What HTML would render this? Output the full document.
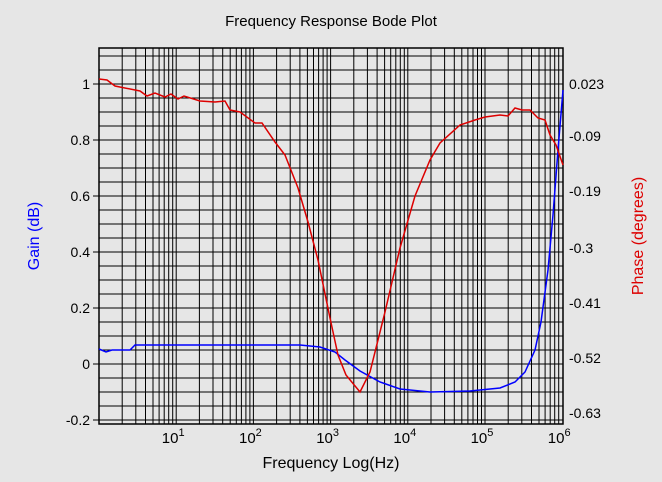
<!DOCTYPE html>
<html><head><meta charset="utf-8"><style>
body{margin:0;background:#e6e6e6;}
svg{display:block;font-family:"Liberation Sans",sans-serif;}
</style></head><body>
<svg id="s" width="662" height="482" viewBox="0 0 662 482" xmlns="http://www.w3.org/2000/svg">
<rect width="662" height="482" fill="#e6e6e6"/>
<g id="grid" stroke="#000" stroke-width="1"></g>
<rect x="99" y="48" width="464" height="376" fill="none" stroke="#000" stroke-width="1.5"/>
<text x="331" y="26" font-size="15" text-anchor="middle">Frequency Response Bode Plot</text>
<g font-size="14" text-anchor="end" id="yl"></g>
<g font-size="14" text-anchor="start">
<text x="569" y="89">0.023</text><text x="569" y="141">-0.09</text><text x="569" y="196">-0.19</text>
<text x="569" y="253">-0.3</text><text x="569" y="308">-0.41</text><text x="569" y="363">-0.52</text><text x="569" y="418">-0.63</text>
</g>
<g font-size="15" text-anchor="middle" id="xl"></g>
<text x="331" y="468" font-size="16" text-anchor="middle">Frequency Log(Hz)</text>
<text transform="translate(39,236) rotate(-90)" font-size="16" fill="#0000ff" text-anchor="middle">Gain (dB)</text>
<text transform="translate(643,236) rotate(-90)" font-size="16" fill="#dd0000" text-anchor="middle">Phase (degrees)</text>
<polyline fill="none" stroke="#0000ff" stroke-width="1.5" points="99,349 106,352 112,350 130,350 135,345 300,345 320,347 335,352 345,360 360,371 380,382 400,389 430,392 470,391 500,388 515,382 525,372 535,350 541,322 548,270 553,215 558,150 563,90"/>
<polyline fill="none" stroke="#dd0000" stroke-width="1.5" points="99,79 107,80 115,86 140,91 147,96 155,93 165,97 171,94 178,99 184,96 200,101 215,102 225,101 230,110 240,112 255,123 262,123 275,142 285,155 298,188 308,222 318,260 330,318 338,355 346,375 360,392 370,372 385,312 400,248 415,196 430,160 440,143 460,125 475,120 485,117 500,115 508,116 515,108 522,110 530,110 538,118 545,120 550,135 556,145 563,165"/>
</svg>
<script>
var ns="http://www.w3.org/2000/svg",g=document.getElementById("grid");
function ln(x1,y1,x2,y2){var l=document.createElementNS(ns,"line");l.setAttribute("x1",x1);l.setAttribute("y1",y1);l.setAttribute("x2",x2);l.setAttribute("y2",y2);g.appendChild(l);}
for(var d=0;d<6;d++)for(var k=1;k<10;k++){var x=99+77.2*(d+Math.log10(k));ln(x.toFixed(1),48,x.toFixed(1),424);}
for(var y=420;y>48;y-=14){ln(99,y,563,y);}
var yl=document.getElementById("yl");
[1,0.8,0.6,0.4,0.2,0,-0.2].forEach(function(v){var t=document.createElementNS(ns,"text");t.setAttribute("x",90);t.setAttribute("y",364-v*280+5);t.textContent=v;yl.appendChild(t);ln(93,364-v*280,99,364-v*280);});
var xl=document.getElementById("xl");
for(var d=1;d<=6;d++){var x=99+77.2*d;var t=document.createElementNS(ns,"text");t.setAttribute("x",x-3);t.setAttribute("y",443);t.innerHTML='10<tspan dy="-7" font-size="11">'+d+'</tspan>';xl.appendChild(t);}
</script>
</body></html>
